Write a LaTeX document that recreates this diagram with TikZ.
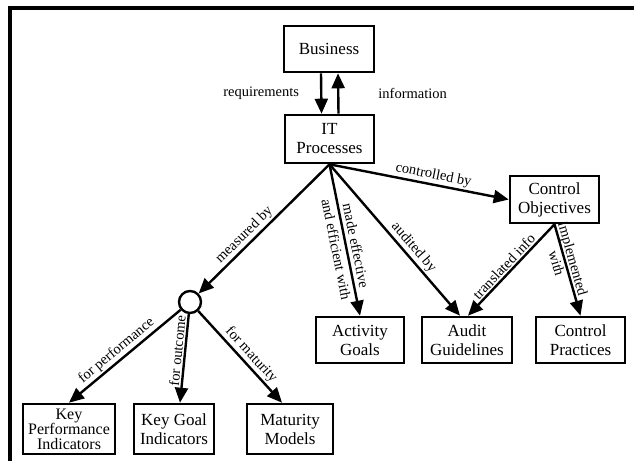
\documentclass[tikz,border=0pt]{standalone}
\usepackage{fontspec}
\setmainfont{Liberation Serif}
\usetikzlibrary{arrows.meta,calc}
\tikzset{
  box/.style={draw,line width=2.6pt,minimum width=#1,minimum height=46pt,inner sep=0pt,align=center,font=\fontsize{17}{19}\selectfont},
  arr/.style={line width=2.4pt,-{Triangle[length=15pt,width=13pt]}},
  lbl/.style={font=\fontsize{14.5}{17}\selectfont,inner sep=1.5pt},
  hub/.style={draw,circle,line width=2.4pt,minimum size=22pt,inner sep=0pt,fill=white}
}
\begin{document}
\begin{tikzpicture}[x=1pt,y=-1pt]
\useasboundingbox (0,0) rectangle (634,461);
\draw[line width=3.5pt] (634,8) -- (10,8) -- (10,461);

\node[box=90pt] (B) at (329,49) {Business};
\node[box=89pt,minimum height=48pt] (IT) at (329.5,139) {IT\\Processes};
\node[box=89pt,minimum height=47pt] (CO) at (554.5,199.5) {Control\\Objectives};
\node[box=88pt] (AG) at (360,340) {Activity\\Goals};
\node[box=90pt] (AuG) at (467,340) {Audit\\Guidelines};
\node[box=89pt] (CP) at (580.5,340) {Control\\Practices};
\node[hub] (C) at (190,302) {};
\node[box=92pt,minimum height=50pt,font=\fontsize{16}{15}\selectfont] (KPI) at (69,429) {Key\\Performance\\Indicators};
\node[box=80pt,minimum height=50pt] (KGI) at (174,429) {Key Goal\\Indicators};
\node[box=86pt,minimum height=50pt] (MM) at (290,429) {Maturity\\Models};

\draw[arr] ([xshift=-8pt]B.south) -- node[lbl,left=21pt,inner sep=0pt]{requirements} ([xshift=-8pt]IT.north);
\draw[arr] ([xshift=9pt]IT.north) -- node[lbl,right=39pt,inner sep=0pt]{information} ([xshift=9pt]B.south);

\draw[arr] (IT.south) -- node[lbl,sloped,above,pos=0.6]{measured by} (C);
\draw[arr] (IT.south) -- node[lbl,sloped,pos=0.55,align=center,font=\fontsize{14.5}{20}\selectfont]{made effective\\and efficient with} (AG.north);
\draw[arr] (IT.south) -- node[lbl,sloped,above,pos=0.59]{audited by} ([xshift=-7pt]AuG.north);
\draw[arr] (IT.south) -- node[lbl,sloped,above,pos=0.57]{controlled by} (CO.west);
\draw[arr] (CO.south) -- node[lbl,sloped,above,pos=0.52]{translated info} ([xshift=1pt]AuG.north);
\draw[arr] (CO.south) -- node[lbl,sloped,pos=0.4,align=center]{implemented\\with} (CP.north);
\draw[arr] (C) -- node[lbl,sloped,above,pos=0.52]{for performance} (KPI.north);
\draw[arr] (C) -- node[lbl,sloped,above,pos=0.42]{for outcome} ([xshift=6pt]KGI.north);
\draw[arr] (C) -- node[lbl,sloped,above,pos=0.55]{for maturity} ([xshift=-8pt]MM.north);
\end{tikzpicture}
\end{document}
